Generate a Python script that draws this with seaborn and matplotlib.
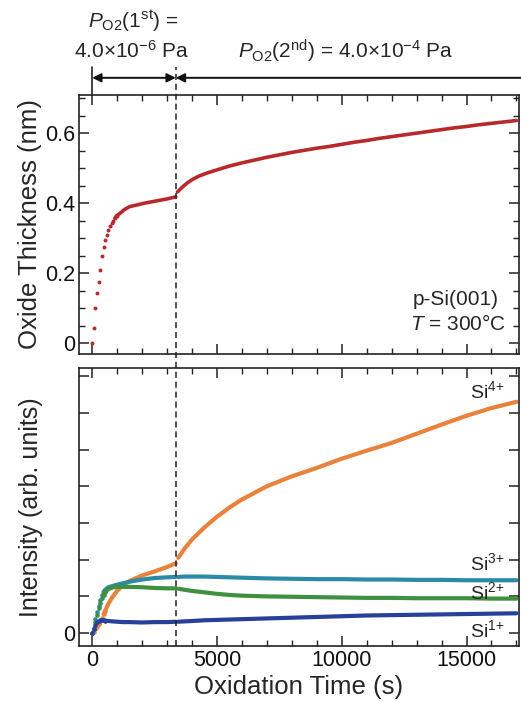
import numpy as np
import pandas as pd
import seaborn as sns
import matplotlib
matplotlib.use("Agg")
import matplotlib.pyplot as plt
from matplotlib.lines import Line2D
from matplotlib.patches import FancyArrowPatch
from matplotlib.ticker import MultipleLocator, NullFormatter, FixedLocator

# ---------------- data ----------------
t_top = [0, 65, 130, 195, 260, 325, 390, 455, 520, 585, 650, 715, 780, 845, 910, 975,
         1100, 1300, 1500, 1800, 2100, 2400, 2700, 3000, 3350,
         3420, 3600, 3800, 4000, 4300, 4600, 5000, 5500, 6000, 6500, 7000, 7500,
         8000, 8500, 9000, 9500, 10000, 10500, 11000, 11500, 12000, 12500, 13000,
         13500, 14000, 14500, 15000, 15500, 16000, 16500, 17000]
thickness = [0.0, 0.043, 0.10, 0.143, 0.176, 0.21, 0.25, 0.275, 0.295, 0.31, 0.323, 0.335,
             0.343, 0.35, 0.357, 0.364,
             0.37, 0.382, 0.39, 0.395, 0.40, 0.404, 0.408, 0.412, 0.418,
             0.432, 0.445, 0.457, 0.467, 0.478, 0.486, 0.495, 0.506, 0.515, 0.523, 0.531,
             0.538, 0.545, 0.551, 0.557, 0.562, 0.568, 0.574, 0.579, 0.585, 0.59, 0.595,
             0.60, 0.605, 0.61, 0.615, 0.619, 0.624, 0.628, 0.632, 0.636]

t_int = [0, 65, 130, 195, 260, 325, 390, 455, 520, 650, 800, 1000, 1250, 1500, 2000, 2500,
         3000, 3350, 3450, 3700, 4000, 4500, 5000, 5500, 6000, 7000, 8000, 9000, 10000,
         11000, 12000, 13000, 14000, 15000, 16000, 17000]
si4 = [0, 0.04, 0.1, 0.17, 0.25, 0.33, 0.42, 0.52, 0.61, 0.8, 0.97, 1.15, 1.32, 1.42, 1.57,
       1.68, 1.8, 1.9, 2.05, 2.3, 2.55, 2.88, 3.17, 3.42, 3.64, 4.0, 4.27, 4.5, 4.75, 4.97,
       5.18, 5.43, 5.68, 5.92, 6.13, 6.3]
si3 = [0, 0.15, 0.38, 0.58, 0.75, 0.9, 1.03, 1.12, 1.18, 1.25, 1.28, 1.32, 1.36, 1.4, 1.46,
       1.5, 1.52, 1.53, 1.53, 1.54, 1.54, 1.54, 1.53, 1.52, 1.51, 1.49, 1.48, 1.47, 1.47,
       1.46, 1.46, 1.45, 1.45, 1.44, 1.44, 1.44]
si2 = [0, 0.1, 0.3, 0.5, 0.68, 0.83, 0.95, 1.05, 1.12, 1.2, 1.24, 1.26, 1.26, 1.26, 1.25,
       1.23, 1.22, 1.22, 1.21, 1.18, 1.15, 1.11, 1.07, 1.04, 1.02, 1.0, 0.99, 0.98, 0.97,
       0.96, 0.96, 0.95, 0.95, 0.95, 0.94, 0.94]
si1 = [0, 0.12, 0.22, 0.3, 0.34, 0.35, 0.35, 0.35, 0.34, 0.33, 0.32, 0.31, 0.3, 0.3, 0.29,
       0.3, 0.3, 0.31, 0.31, 0.32, 0.33, 0.35, 0.36, 0.37, 0.38, 0.4, 0.42, 0.44, 0.46,
       0.48, 0.49, 0.5, 0.51, 0.52, 0.53, 0.54]
species = ["Si4+", "Si3+", "Si2+", "Si1+"]
switch_time = 3350

# ---------------- style ----------------
sns.set_theme(style="white")
plt.rcParams["font.family"] = ["Liberation Sans", "DejaVu Sans"]
plt.rcParams["mathtext.fontset"] = "custom"
plt.rcParams["mathtext.rm"] = "Liberation Sans"
plt.rcParams["mathtext.it"] = "Liberation Sans:italic"
plt.rcParams["mathtext.bf"] = "Liberation Sans:bold"

colors = {"Si4+": "#e8823c", "Si3+": "#2b8aa6", "Si2+": "#3f913f", "Si1+": "#27409a"}
red = "#b8292b"

fig = plt.figure(figsize=(5.21, 7.01), dpi=100)
ax1 = fig.add_axes([0.152, 0.495, 0.844, 0.3695])
ax2 = fig.add_axes([0.152, 0.0785, 0.844, 0.3965])

# top panel
df_top = pd.DataFrame({"t": t_top, "d": thickness})
early = df_top[df_top.t < 1000]
late = df_top[df_top.t >= 910]
sns.scatterplot(data=early, x="t", y="d", ax=ax1, color=red, s=8, linewidth=0, legend=False)
sns.lineplot(data=late[late.t <= switch_time], x="t", y="d", ax=ax1, color=red, lw=2.6)
sns.lineplot(data=late[late.t > switch_time], x="t", y="d", ax=ax1, color=red, lw=2.6)

# bottom panel
df_int = pd.DataFrame({"t": t_int, "Si4+": si4, "Si3+": si3, "Si2+": si2, "Si1+": si1})
long = df_int.melt(id_vars="t", var_name="species", value_name="I")
for sp in species:
    d = long[long.species == sp]
    sns.scatterplot(data=d[d.t <= 520], x="t", y="I", ax=ax2, color=colors[sp], s=11,
                    linewidth=0, legend=False)
    sns.lineplot(data=d[(d.t >= 455) & (d.t <= switch_time)], x="t", y="I", ax=ax2,
                 color=colors[sp], lw=3.0)
    sns.lineplot(data=d[d.t > switch_time], x="t", y="I", ax=ax2, color=colors[sp], lw=3.0)

FS_TICK = 15.5
FS_LAB = 18.5
for ax in (ax1, ax2):
    ax.set_xlim(-520, 17100)
    ax.xaxis.set_major_locator(MultipleLocator(5000))
    ax.xaxis.set_minor_locator(MultipleLocator(1000))
    ax.tick_params(which="both", direction="in", top=True, right=True, bottom=True, left=True,
                   colors="#222222", labelcolor="#111111", labelsize=FS_TICK)
    ax.tick_params(which="major", length=7, width=1.1, pad=3)
    ax.tick_params(which="minor", length=4, width=1.0)
    for s in ax.spines.values():
        s.set_color("#222222")
        s.set_linewidth(1.2)
    ax.set_xlabel("")
    ax.set_ylabel("")

ax1.set_ylim(-0.031, 0.709)
ax1.yaxis.set_major_locator(FixedLocator([0, 0.2, 0.4, 0.6]))
ax1.set_yticklabels(["0", "0.2", "0.4", "0.6"])
ax1.yaxis.set_minor_locator(MultipleLocator(0.05))
ax1.xaxis.set_major_formatter(NullFormatter())
ax1.set_ylabel("Oxide Thickness (nm)", fontsize=FS_LAB, labelpad=2)

ax2.set_ylim(-0.35, 7.22)
ax2.yaxis.set_major_locator(FixedLocator(range(0, 8)))
ax2.set_yticklabels(["0"] + [""] * 7)
ax2.set_ylabel("Intensity (arb. units)", fontsize=FS_LAB - 0.5, labelpad=14)
ax2.set_xlabel("Oxidation Time (s)", fontsize=FS_LAB, labelpad=3)
ax2.set_xticks([0, 5000, 10000, 15000])
ax2.set_xticklabels(["0", "5000", "10000", "15000"])

ax1.text(0.955, 0.21, "p-Si(001)", transform=ax1.transAxes, ha="right", va="center",
         fontsize=15)
ax1.text(0.97, 0.115, "$T$ = 300\u00b0C", transform=ax1.transAxes, ha="right",
         va="center", fontsize=15)

label_y = {"Si4+": 6.6, "Si3+": 1.9, "Si2+": 1.12, "Si1+": 0.08}
for sp in species:
    ax2.text(16500, label_y[sp], "Si$^{\\mathrm{" + sp[2] + "}\\mathrm{+}}$",
             ha="right", va="center", fontsize=14)

# dashed switch line across panels
inv = fig.transFigure.inverted()
xf = inv.transform(ax1.transData.transform((switch_time, 0)))[0]
x0f = inv.transform(ax1.transData.transform((0, 0)))[0]
fig.add_artist(Line2D([xf, xf], [0.0785, 0.905], transform=fig.transFigure, color="#222222",
                      lw=1.1, ls=(0, (4, 2.5))))
fig.add_artist(Line2D([x0f, x0f], [0.8645, 0.905], transform=fig.transFigure,
                      color="#222222", lw=1.2))
ya = 0.889
fig.patches.append(FancyArrowPatch((x0f, ya), (xf, ya), transform=fig.transFigure,
                   arrowstyle="<|-|>", mutation_scale=13, color="#111111", lw=1.4,
                   shrinkA=0, shrinkB=0))
fig.patches.append(FancyArrowPatch((1.0, ya), (xf, ya), transform=fig.transFigure,
                   arrowstyle="-|>", mutation_scale=13, color="#111111", lw=1.4,
                   shrinkA=0, shrinkB=0))

fig.text(0.255, 0.969, "$P_{\\rm O2}$(1$^{\\rm st}$) =", ha="center", va="center", fontsize=15)
fig.text(0.253, 0.927, "4.0$\\times$10$^{-6}$ Pa", ha="center", va="center", fontsize=15)
fig.text(0.664, 0.927, "$P_{\\rm O2}$(2$^{\\rm nd}$) = 4.0$\\times$10$^{-4}$ Pa", ha="center",
         va="center", fontsize=15)

fig.savefig("out.png", dpi=100)
